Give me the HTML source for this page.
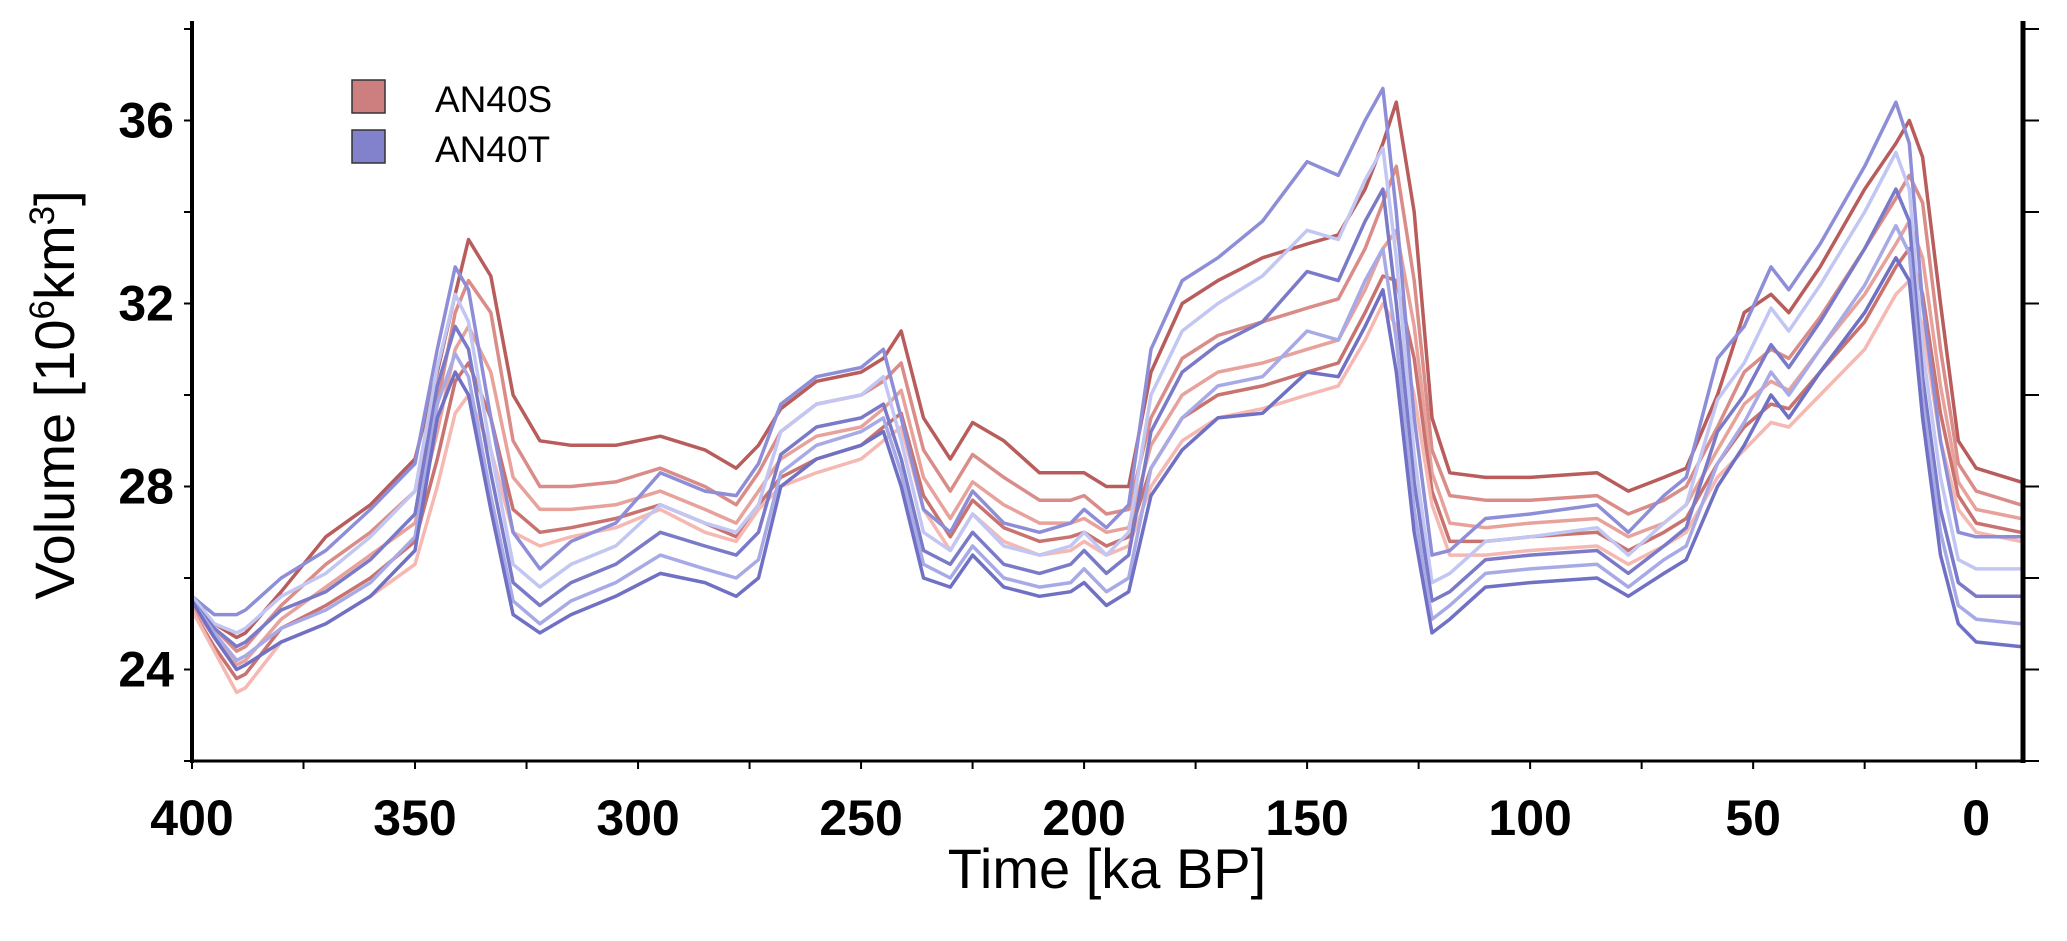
<!DOCTYPE html>
<html><head><meta charset="utf-8"><style>
html,body{margin:0;padding:0;background:#fff;}
svg{display:block;font-family:"Liberation Sans",Arial,sans-serif;}
</style></head><body>
<svg id="chart" width="2067" height="941" viewBox="0 0 2067 941" xmlns="http://www.w3.org/2000/svg">
<defs><clipPath id="clip"><rect x="192" y="29" width="1831" height="732"/></clipPath></defs>
<g id="series" clip-path="url(#clip)"></g>
<g id="axes"></g>
<g>
<rect x="352" y="80" width="33" height="33" fill="#cd7f7f" stroke="#333" stroke-width="1.5"/>
<text x="435" y="112" font-size="37">AN40S</text>
<rect x="352" y="130" width="33" height="33" fill="#8282cc" stroke="#333" stroke-width="1.5"/>
<text x="435" y="162" font-size="37">AN40T</text>
</g>
<text x="1107" y="888" font-size="56" text-anchor="middle">Time [ka BP]</text>
<text transform="translate(74,395) rotate(-90)" font-size="56" text-anchor="middle">Volume [10<tspan font-size="35" dy="-20">6</tspan><tspan dy="20">km</tspan><tspan font-size="35" dy="-20">3</tspan><tspan dy="20">]</tspan></text>
</svg>
<script>
const times=[400,395,390,388,380,370,360,350,345,341,338,333,328,322,315,305,295,285,278,273,268,260,250,245,241,236,230,225,218,210,203,200,195,190,185,178,170,160,150,143,137,133,130,126,122,118,110,100,85,78,70,65,58,52,46,42,35,25,18,15,12,8,4,0,-10];
const redTop=[25.6,25.0,24.7,24.8,25.7,26.9,27.6,28.6,30.5,32.2,33.4,32.6,30.0,29.0,28.9,28.9,29.1,28.8,28.4,28.9,29.7,30.3,30.5,30.8,31.4,29.5,28.6,29.4,29.0,28.3,28.3,28.3,28.0,28.0,30.5,32.0,32.5,33.0,33.3,33.5,34.5,35.5,36.4,34.0,29.5,28.3,28.2,28.2,28.3,27.9,28.2,28.4,30.0,31.8,32.2,31.8,32.8,34.5,35.5,36.0,35.2,32.0,29.0,28.4,28.1];
const redHigh=[25.5,24.9,24.4,24.5,25.4,26.3,27.0,27.9,29.8,31.8,32.5,31.8,29.0,28.0,28.0,28.1,28.4,28.0,27.6,28.3,29.2,29.8,30.0,30.3,30.7,28.8,27.9,28.7,28.2,27.7,27.7,27.8,27.4,27.5,29.5,30.8,31.3,31.6,31.9,32.1,33.2,34.2,35.0,32.5,28.8,27.8,27.7,27.7,27.8,27.4,27.7,28.0,29.3,30.5,31.0,30.8,31.7,33.2,34.3,34.8,34.2,31.0,28.5,27.9,27.6];
const redMid=[25.4,24.7,24.1,24.2,25.1,25.8,26.5,27.2,29.2,31.0,31.5,30.5,28.2,27.5,27.5,27.6,27.9,27.5,27.2,27.9,28.6,29.1,29.3,29.7,30.1,28.2,27.3,28.1,27.6,27.2,27.2,27.3,27.0,27.1,28.9,30.0,30.5,30.7,31.0,31.2,32.3,33.2,33.6,31.5,28.3,27.2,27.1,27.2,27.3,26.9,27.2,27.6,28.8,29.8,30.3,30.1,31.0,32.2,33.3,33.8,33.0,30.2,28.1,27.5,27.3];
const redLow=[25.3,24.5,23.8,23.9,24.9,25.4,26.0,26.8,28.6,30.3,30.7,29.5,27.5,27.0,27.1,27.3,27.6,27.2,26.9,27.6,28.2,28.6,28.9,29.3,29.6,27.8,26.9,27.7,27.1,26.8,26.9,27.0,26.7,26.9,28.4,29.5,30.0,30.2,30.5,30.7,31.8,32.6,32.5,30.8,27.9,26.8,26.8,26.9,27.0,26.6,27.0,27.3,28.5,29.3,29.8,29.7,30.5,31.6,32.8,33.2,32.2,29.6,27.8,27.2,27.0];
const redBottom=[25.3,24.4,23.5,23.6,24.6,25.0,25.6,26.3,28.0,29.6,30.0,28.8,27.0,26.7,26.9,27.1,27.5,27.0,26.8,27.5,28.0,28.3,28.6,29.0,29.3,27.5,26.6,27.4,26.8,26.5,26.6,26.8,26.5,26.7,28.0,29.0,29.5,29.7,30.0,30.2,31.2,32.0,31.5,30.0,27.6,26.5,26.5,26.6,26.7,26.3,26.7,27.0,28.2,28.8,29.4,29.3,30.0,31.0,32.2,32.5,31.5,29.0,27.5,27.0,26.8];
const blueTop=[25.6,25.2,25.2,25.3,26.0,26.6,27.5,28.5,31.0,32.8,32.3,29.5,27.0,26.2,26.8,27.2,28.3,27.9,27.8,28.5,29.8,30.4,30.6,31.0,29.5,27.5,27.0,27.9,27.2,27.0,27.2,27.5,27.1,27.6,31.0,32.5,33.0,33.8,35.1,34.8,36.0,36.7,34.0,29.5,26.5,26.6,27.3,27.4,27.6,27.0,27.8,28.2,30.8,31.5,32.8,32.3,33.3,35.0,36.4,35.5,32.0,29.0,27.0,26.9,26.9];
const blueHigh=[25.6,25.0,24.8,24.9,25.6,26.1,26.9,27.9,30.6,32.2,31.6,28.8,26.3,25.8,26.3,26.7,27.6,27.2,27.0,27.6,29.2,29.8,30.0,30.4,29.0,27.0,26.6,27.4,26.7,26.5,26.7,27.0,26.5,27.0,30.0,31.4,32.0,32.6,33.6,33.4,34.7,35.4,33.0,28.7,25.9,26.1,26.8,26.9,27.1,26.5,27.2,27.6,29.9,30.7,31.9,31.4,32.4,34.0,35.3,34.5,31.0,28.2,26.4,26.2,26.2];
const blueMid=[25.5,24.9,24.5,24.6,25.3,25.7,26.4,27.4,30.2,31.5,31.0,28.3,25.9,25.4,25.9,26.3,27.0,26.7,26.5,27.0,28.7,29.3,29.5,29.8,28.6,26.6,26.3,27.0,26.3,26.1,26.3,26.6,26.1,26.5,29.2,30.5,31.1,31.6,32.7,32.5,33.8,34.5,32.0,28.1,25.5,25.7,26.4,26.5,26.6,26.1,26.7,27.1,29.2,30.0,31.1,30.6,31.6,33.2,34.5,33.8,30.4,27.5,25.9,25.6,25.6];
const blueLow=[25.5,24.8,24.2,24.3,24.9,25.3,25.9,26.9,29.8,30.9,30.4,27.8,25.5,25.0,25.5,25.9,26.5,26.2,26.0,26.4,28.3,28.9,29.2,29.5,28.3,26.3,26.0,26.7,26.0,25.8,25.9,26.2,25.7,26.0,28.4,29.5,30.2,30.4,31.4,31.2,32.5,33.2,31.2,27.5,25.1,25.4,26.1,26.2,26.3,25.8,26.4,26.7,28.5,29.4,30.5,30.0,31.0,32.4,33.7,33.1,29.9,27.0,25.4,25.1,25.0];
const blueBottom=[25.5,24.7,24.0,24.1,24.6,25.0,25.6,26.6,29.5,30.5,30.0,27.5,25.2,24.8,25.2,25.6,26.1,25.9,25.6,26.0,28.0,28.6,28.9,29.2,28.0,26.0,25.8,26.5,25.8,25.6,25.7,25.9,25.4,25.7,27.8,28.8,29.5,29.6,30.5,30.4,31.5,32.3,30.5,27.0,24.8,25.1,25.8,25.9,26.0,25.6,26.1,26.4,28.0,28.9,30.0,29.5,30.5,31.8,33.0,32.5,29.5,26.5,25.0,24.6,24.5];
const xTicks=[400,350,300,250,200,150,100,50,0];
const yTicks=[24,28,32,36];

const X0=192,X1=2023,Y0=29,Y1=761,T0=400,T1=-10.5,V0=22,V1=38;
function xs(t){return X0+(T0-t)/(T0-T1)*(X1-X0);}
function ys(v){return Y1-(v-V0)/(V1-V0)*(Y1-Y0);}
const NS="http://www.w3.org/2000/svg";
function mk(tag,attrs,parent){const e=document.createElementNS(NS,tag);for(const k in attrs)e.setAttribute(k,attrs[k]);parent.appendChild(e);return e;}
const sg=document.getElementById('series');
const series=[
 [redTop,'#b85c5c','an40s-member-1'],[redHigh,'#d98c88','an40s-member-2'],[redMid,'#e8a29c','an40s-member-3'],[redLow,'#c97370','an40s-member-4'],[redBottom,'#f5b8b2','an40s-member-5'],
 [blueTop,'#8e8ed8','an40t-member-1'],[blueHigh,'#c2c6f2','an40t-member-2'],[blueMid,'#7a7ac8','an40t-member-3'],[blueLow,'#a8aae6','an40t-member-4'],[blueBottom,'#7070c4','an40t-member-5']
];
series.forEach(s=>{
 const pts=times.map((t,i)=>xs(t).toFixed(1)+','+ys(s[0][i]).toFixed(1)).join(' ');
 const p=mk('polyline',{points:pts,fill:'none',stroke:s[1],'stroke-width':3.5,'stroke-linejoin':'round'},sg);
 
 
});
const ag=document.getElementById('axes');
mk('line',{x1:X0,y1:Y0-8,x2:X0,y2:Y1+2,stroke:'#000','stroke-width':4},ag);
mk('line',{x1:X1,y1:Y0-8,x2:X1,y2:Y1+2,stroke:'#000','stroke-width':5},ag);
mk('line',{x1:X0,y1:Y1,x2:X1,y2:Y1,stroke:'#000','stroke-width':3},ag);
for(let v=22;v<=38;v+=2){
 const y=ys(v);
 mk('line',{x1:X0-8,y1:y,x2:X0,y2:y,stroke:'#000','stroke-width':2},ag);
 mk('line',{x1:X1,y1:y,x2:X1+16,y2:y,stroke:'#000','stroke-width':2},ag);
}
yTicks.forEach(v=>{
 const t=mk('text',{x:X0-18,y:ys(v)+17,'font-size':50,'font-weight':'bold','text-anchor':'end'},ag);
 t.textContent=v;
 
 
});
for(let k=400;k>=0;k-=25){
 mk('line',{x1:xs(k),y1:Y1,x2:xs(k),y2:Y1+8,stroke:'#000','stroke-width':2},ag);
}
xTicks.forEach(k=>{
 const t=mk('text',{x:xs(k),y:Y1+74,'font-size':50,'font-weight':'bold','text-anchor':'middle'},ag);
 t.textContent=k;
 
 
});
</script>
</body></html>
